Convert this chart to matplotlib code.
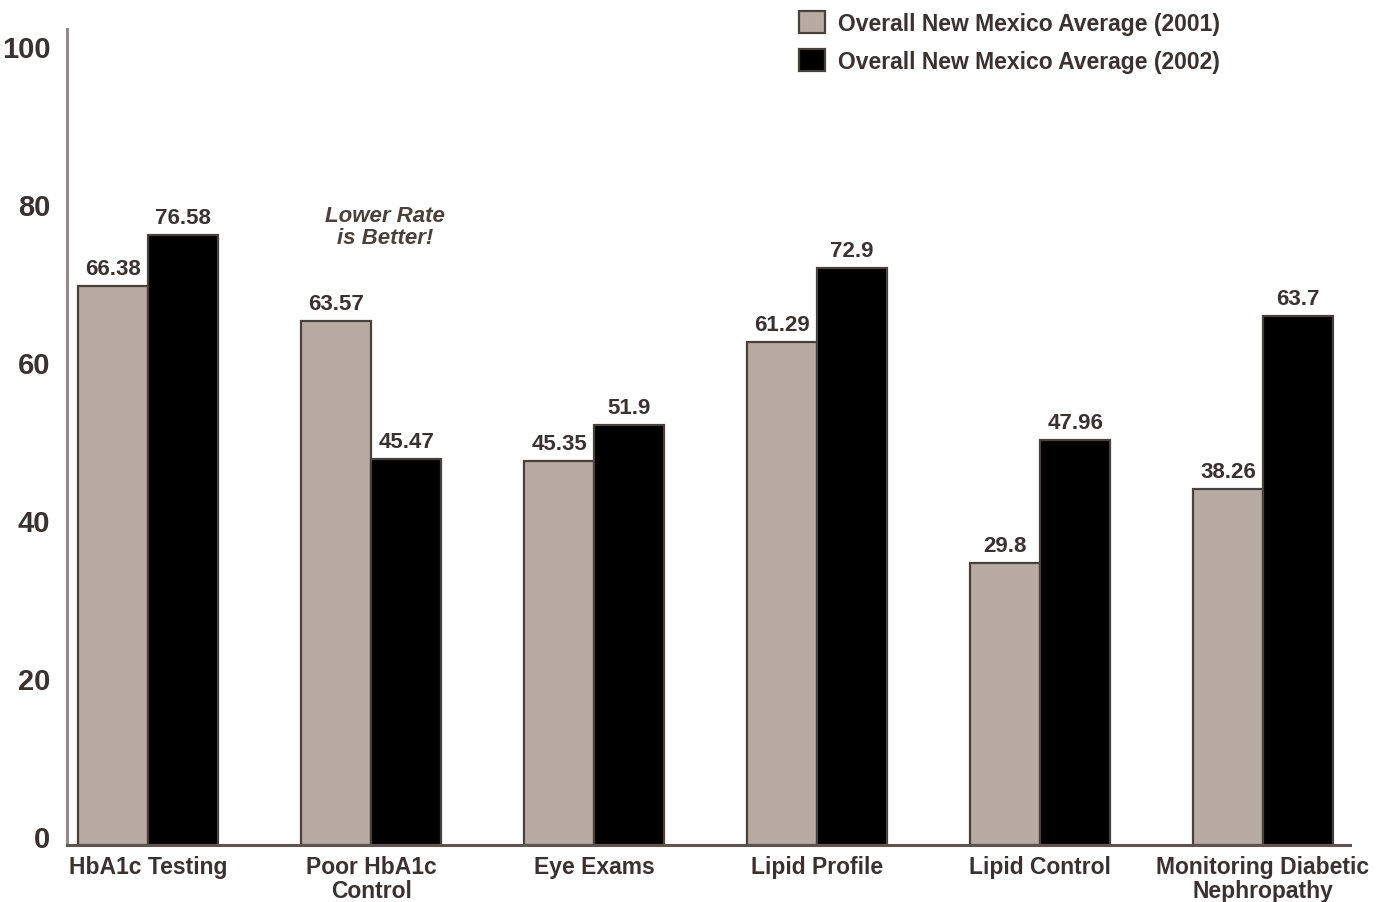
import numpy as np
import matplotlib
matplotlib.use('Agg')
import matplotlib.pyplot as plt
import matplotlib.transforms as mtransforms
from matplotlib.patches import Patch

plt.rcParams['font.family'] = ['Liberation Sans', 'DejaVu Sans']

categories = ['HbA1c Testing', 'Poor HbA1c\nControl', 'Eye Exams',
              'Lipid Profile', 'Lipid Control', 'Monitoring Diabetic\nNephropathy']
# bar heights as drawn against the axis
bars_2001 = [70.8, 66.3, 48.6, 63.7, 35.7, 45.1]
bars_2002 = [77.2, 48.9, 53.2, 73.0, 51.3, 67.0]
# values printed above the bars
labels_2001 = ['66.38', '63.57', '45.35', '61.29', '29.8', '38.26']
labels_2002 = ['76.58', '45.47', '51.9', '72.9', '47.96', '63.7']
yticks = [0, 20, 40, 60, 80, 100]

gray = '#b8aba3'
edge = '#4a403c'
txt = '#3a3230'

fig = plt.figure(figsize=(13.88, 9.03), dpi=100)
ax = fig.add_axes([0.0483, 0.0631, 0.9243, 0.9037])

x = np.arange(len(categories))
w = 0.314
b1 = ax.bar(x - w / 2, bars_2001, w, color=gray, edgecolor=edge, linewidth=1.6,
            label='Overall New Mexico Average (2001)')
b2 = ax.bar(x + w / 2, bars_2002, w, color='black', edgecolor=edge, linewidth=1.6,
            label='Overall New Mexico Average (2002)')

for bars, labels in [(b1, labels_2001), (b2, labels_2002)]:
    for rect, lab in zip(bars, labels):
        ax.annotate(lab, (rect.get_x() + rect.get_width() / 2, rect.get_height()),
                    xytext=(0, 5), textcoords='offset points', ha='center', va='bottom',
                    fontsize=16, fontweight='bold', color=txt)

ax.text(1.06, 78.3, 'Lower Rate\nis Better!', ha='center', va='center',
        fontsize=16, fontweight='bold', fontstyle='italic', color='#4a403c',
        linespacing=1.1)

ax.set_xlim(-0.365, 5.39)
ax.set_ylim(0, 103.3)
ax.set_yticks(yticks)
ax.set_yticklabels([str(t) for t in yticks], fontsize=21, fontweight='bold', color=txt)
ax.set_xticks(x)
ax.set_xticklabels(categories, fontsize=16.5, fontweight='bold', color=txt, linespacing=1.05)
ax.tick_params(axis='both', length=0)
ax.tick_params(axis='y', pad=12)
ax.tick_params(axis='x', pad=7)

# reference tick labels sit a little above their grid values
shift = mtransforms.ScaledTranslation(0, 9 / 100, fig.dpi_scale_trans)
for lbl in ax.get_yticklabels():
    lbl.set_transform(lbl.get_transform() + shift)

for s in ['top', 'right']:
    ax.spines[s].set_visible(False)
ax.spines['left'].set_color('#958b86')
ax.spines['left'].set_linewidth(2.2)
ax.spines['bottom'].set_color('#5e5550')
ax.spines['bottom'].set_linewidth(2.2)

handles = [Patch(facecolor=gray, edgecolor=edge, linewidth=1.6),
           Patch(facecolor='black', edgecolor=edge, linewidth=1.6)]
fig.legend(handles, ['Overall New Mexico Average (2001)', 'Overall New Mexico Average (2002)'],
           loc='upper left', bbox_to_anchor=(0.561, 1.009), frameon=False,
           prop={'size': 16.5, 'weight': 'bold'}, labelcolor=txt,
           handlelength=1.1, handleheight=1.1, handletextpad=0.6, labelspacing=0.6)

fig.savefig('out.png', dpi=100)
